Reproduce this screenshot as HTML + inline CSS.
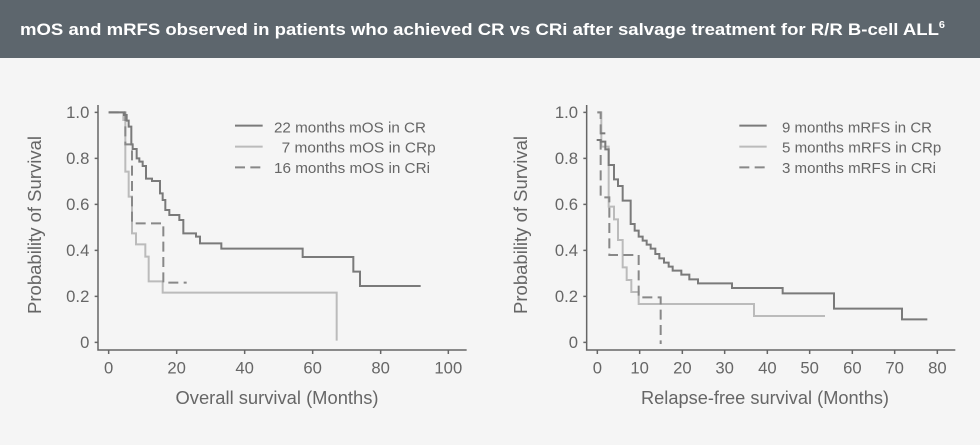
<!DOCTYPE html>
<html><head><meta charset="utf-8"><style>
html,body{margin:0;padding:0;background:#f5f5f5;}
svg{display:block}
text{font-family:"Liberation Sans",sans-serif;}
</style></head><body>
<svg width="980" height="445" viewBox="0 0 980 445" xmlns="http://www.w3.org/2000/svg">
<rect width="980" height="445" fill="#f5f5f5"/>
<rect width="980" height="58" fill="#5d666d"/>
<text x="20" y="35" fill="#fff" font-size="17" font-weight="bold" textLength="925" lengthAdjust="spacingAndGlyphs">mOS and mRFS observed in patients who achieved CR vs CRi after salvage treatment for R/R B-cell ALL<tspan font-size="10" dy="-7">6</tspan></text>

<!-- Left chart -->
<g transform="translate(0,80) scale(0.33333)" fill="none">
 <path d="M294,75 V810 H1400" stroke="#666" stroke-width="4.5"/>
 <g stroke="#666" stroke-width="4.5">
  <path d="M284,97 H294 M284,235 H294 M284,373 H294 M284,511 H294 M284,649 H294 M284,787 H294"/>
  <path d="M326,810 V822 M530,810 V822 M734,810 V822 M938,810 V822 M1142,810 V822 M1345,810 V822"/>
 </g>
 <path d="M326,97 H370 V120 H376 V275 H386 V350 H396 V460 H408 V493 H436 V530 H446 V604 H488 V638 H1010 V782" stroke="#bbbbbb" stroke-width="6"/>
 <path d="M326,97 H376 V193 H396 V430 H490 V608 H560" stroke="#888" stroke-width="6" stroke-dasharray="30,16"/>
 <path d="M326,97 H372 V105 H380 V122 H386 V140 H394 V193 H398 V207 H410 V235 H418 V245 H428 V258 H438 V296 H456 V303 H480 V340 H488 V360 H496 V390 H508 V405 H538 V420 H550 V460 H588 V470 H600 V490 H664 V506 H908 V531 H1060 V575 H1080 V618 H1262" stroke="#7a7a7a" stroke-width="6"/>
 <path d="M705,137 H788" stroke="#7a7a7a" stroke-width="6"/>
 <path d="M705,200 H788" stroke="#bbbbbb" stroke-width="6"/>
 <path d="M705,262 H788" stroke="#888" stroke-width="6" stroke-dasharray="30,16"/>
 <g fill="#666" font-size="45" stroke="none">
  <text x="822" y="158" textLength="456" lengthAdjust="spacingAndGlyphs">22 months mOS in CR</text>
  <text x="845" y="218" textLength="462" lengthAdjust="spacingAndGlyphs">7 months mOS in CRp</text>
  <text x="822" y="279" textLength="468" lengthAdjust="spacingAndGlyphs">16 months mOS in CRi</text>
 </g>
 <g fill="#666" font-size="50" stroke="none" text-anchor="end">
  <text x="268" y="114">1.0</text><text x="268" y="252">0.8</text><text x="268" y="390">0.6</text>
  <text x="268" y="528">0.4</text><text x="268" y="666">0.2</text><text x="268" y="804">0</text>
 </g>
 <g fill="#666" font-size="50" stroke="none" text-anchor="middle">
  <text x="326" y="880">0</text><text x="530" y="880">20</text><text x="734" y="880">40</text>
  <text x="938" y="880">60</text><text x="1142" y="880">80</text><text x="1345" y="880">100</text>
 </g>
</g>
<text transform="translate(41,225) rotate(-90)" text-anchor="middle" fill="#666" font-size="18" textLength="178" lengthAdjust="spacingAndGlyphs">Probability of Survival</text>
<text x="277" y="404" text-anchor="middle" fill="#666" font-size="18" textLength="203" lengthAdjust="spacingAndGlyphs">Overall survival (Months)</text>

<!-- Right chart -->
<g transform="translate(500,80) scale(0.33333)" fill="none">
 <path d="M260,75 V810 H1366" stroke="#666" stroke-width="4.5"/>
 <g stroke="#666" stroke-width="4.5">
  <path d="M250,97 H260 M250,235 H260 M250,373 H260 M250,511 H260 M250,649 H260 M250,787 H260"/>
  <path d="M292,810 V822 M419,810 V822 M547,810 V822 M674,810 V822 M802,810 V822 M929,810 V822 M1057,810 V822 M1184,810 V822 M1312,810 V822"/>
 </g>
 <path d="M292,97 H304 V200 H326 V380 H342 V418 H354 V480 H368 V562 H380 V600 H394 V636 H416 V672 H762 V708 H975" stroke="#bbbbbb" stroke-width="6"/>
 <path d="M292,97 H302 V352 H328 V525 H416 V652 H482 V792" stroke="#888" stroke-width="6" stroke-dasharray="30,16"/>
 <path d="M290,180 H302 V185 H316 V208 H326 V255 H342 V298 H354 V318 H368 V362 H392 V432 H404 V452 H416 V470 H428 V482 H440 V494 H452 V506 H466 V522 H478 V535 H492 V548 H506 V560 H518 V572 H544 V584 H568 V598 H594 V610 H696 V624 H848 V640 H1002 V686 H1206 V718 H1282" stroke="#7a7a7a" stroke-width="6"/>
 <path d="M302,160 H316" stroke="#7a7a7a" stroke-width="6"/>
 <path d="M718,137 H800" stroke="#7a7a7a" stroke-width="6"/>
 <path d="M718,200 H800" stroke="#bbbbbb" stroke-width="6"/>
 <path d="M718,262 H800" stroke="#888" stroke-width="6" stroke-dasharray="30,16"/>
 <g fill="#666" font-size="45" stroke="none">
  <text x="846" y="158" textLength="450" lengthAdjust="spacingAndGlyphs">9 months mRFS in CR</text>
  <text x="846" y="218" textLength="478" lengthAdjust="spacingAndGlyphs">5 months mRFS in CRp</text>
  <text x="846" y="279" textLength="462" lengthAdjust="spacingAndGlyphs">3 months mRFS in CRi</text>
 </g>
 <g fill="#666" font-size="50" stroke="none" text-anchor="end">
  <text x="234" y="114">1.0</text><text x="234" y="252">0.8</text><text x="234" y="390">0.6</text>
  <text x="234" y="528">0.4</text><text x="234" y="666">0.2</text><text x="234" y="804">0</text>
 </g>
 <g fill="#666" font-size="50" stroke="none" text-anchor="middle">
  <text x="292" y="880">0</text><text x="419" y="880">10</text><text x="547" y="880">20</text>
  <text x="674" y="880">30</text><text x="802" y="880">40</text><text x="929" y="880">50</text>
  <text x="1057" y="880">60</text><text x="1184" y="880">70</text><text x="1312" y="880">80</text>
 </g>
</g>
<text transform="translate(527,225) rotate(-90)" text-anchor="middle" fill="#666" font-size="18" textLength="178" lengthAdjust="spacingAndGlyphs">Probability of Survival</text>
<text x="765" y="404" text-anchor="middle" fill="#666" font-size="18" textLength="248" lengthAdjust="spacingAndGlyphs">Relapse-free survival (Months)</text>
</svg>
</body></html>
